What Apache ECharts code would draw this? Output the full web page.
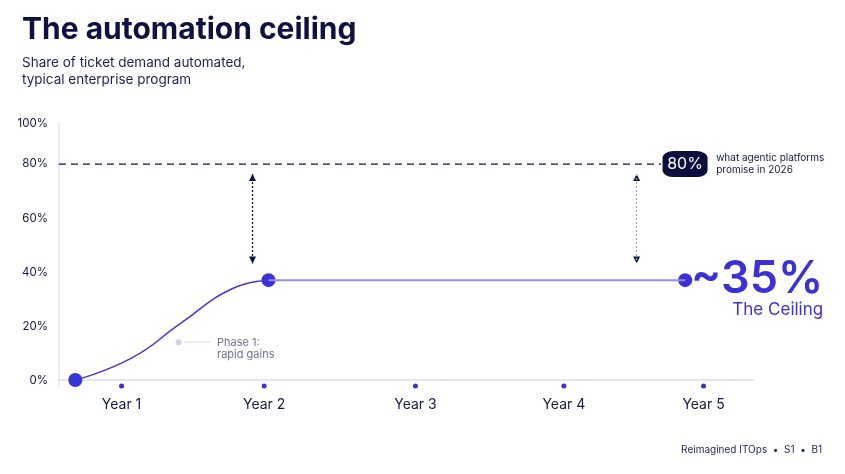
<!DOCTYPE html>
<html><head><meta charset="utf-8">
<script src="https://cdn.jsdelivr.net/npm/echarts@6/dist/echarts.min.js"></script>
<style>html,body{margin:0;padding:0;background:#fff}#c{width:845px;height:474px}</style>
</head><body><div id="c"></div>
<script>
// ---- data ----
const yearLabels = ['Year 1', 'Year 2', 'Year 3', 'Year 4', 'Year 5'];
const yearPos = [1, 1.98, 3.02, 4.04, 5];
const yTickValues = [0, 20, 40, 60, 80, 95];
const yTickLabels = ['0%', '20%', '40%', '60%', '80%', '100%'];
const curve = [[0.682, 0], [1.071, 8.2], [1.403, 20.9], [1.759, 33.8], [2.01, 37]];
const plateau = [[2.01, 37], [4.874, 37]];
const bigDots = [[0.682, 0], [2.01, 37], [4.874, 37]];
const promiseValue = 80;
const promiseLineX = [0.57, 4.709];
const promiseBadgeX = 4.873;
const promiseNoteX = 5.087;
const promiseBadge = '80%';
const promiseNote = 'what agentic platforms\npromise in 2026';
const ceilingLabel = '~35%';
const ceilingSub = 'The Ceiling';
const gapArrowX = [1.9, 4.54];
const gapArrowTop = 76.3;
const gapArrowBottom = 43.2;
const phasePoint = [1.392, 14];
const phaseLineX = [1.43, 1.61];
const phaseTextX = 1.656;
const phaseText = 'Phase 1:\nrapid gains';

const NAVY = '#0f1240';
const BLUE = '#3b31d8';
const FONT = 'Inter';

const chart = echarts.init(document.getElementById('c'), null, {renderer: 'canvas'});
chart.setOption({
  animation: false,
  backgroundColor: '#ffffff',
  textStyle: {fontFamily: FONT},
  grid: {left: 59, right: 92, top: 123, bottom: 88},
  xAxis: {
    type: 'value', min: 0.57, max: 5.34,
    axisLine: {show: true, lineStyle: {color: '#dcdcef', width: 1.5}},
    axisTick: {show: false}, axisLabel: {show: false}, splitLine: {show: false}
  },
  yAxis: {
    type: 'value', min: -2.2, max: 95.2,
    axisLine: {show: true, lineStyle: {color: '#e4e4f2', width: 1.5}},
    axisTick: {show: false}, axisLabel: {show: false}, splitLine: {show: false}
  },
  graphic: [
    {type: 'text', left: 22, top: 15, style: {text: 'The automation ceiling', font: '700 30px Inter', fill: NAVY}},
    {type: 'text', left: 22, top: 55, style: {text: 'Share of ticket demand automated,\ntypical enterprise program', font: '400 13.5px Inter', fill: '#1d2150', lineHeight: 16.5}},
    {type: 'text', right: 23, top: 445, style: {text: 'Reimagined ITOps  \u2022  S1  \u2022  B1', font: '400 10px Inter', fill: '#1d2150'}}
  ],
  series: [
    // 80% promise dashed line
    {type: 'line', silent: true, clip: false, symbol: 'none',
     data: promiseLineX.map(x => [x, promiseValue]),
     lineStyle: {color: NAVY, width: 1.3, type: [7, 5]}},
    // gap arrows (dotted shafts)
    {type: 'line', silent: true, data: [],
     markLine: {silent: true, symbol: 'none', label: {show: false},
       data: [
         [{coord: [gapArrowX[0], gapArrowTop], lineStyle: {color: NAVY, width: 1.3, type: [2, 2]}}, {coord: [gapArrowX[0], gapArrowBottom]}],
         [{coord: [gapArrowX[1], gapArrowTop], lineStyle: {color: '#a9abbf', width: 1.2, type: [2, 2]}}, {coord: [gapArrowX[1], gapArrowBottom]}]
       ]}},
    // arrow heads
    {type: 'scatter', silent: true, clip: false, symbol: 'triangle', symbolSize: [7, 7],
     itemStyle: {color: NAVY, opacity: 1},
     data: gapArrowX.map(x => ({value: [x, gapArrowTop], symbolOffset: [0, 3.5]}))
       .concat(gapArrowX.map(x => ({value: [x, gapArrowBottom], symbolRotate: 180, symbolOffset: [0, -3.5]})))},
    // curve
    {type: 'line', silent: true, smooth: 0.5, symbol: 'none', data: curve,
     lineStyle: {color: '#4037d8', width: 1.5}},
    // plateau
    {type: 'line', silent: true, symbol: 'none', data: plateau,
     lineStyle: {color: '#958de9', width: 2}},
    // big dots
    {type: 'scatter', silent: true, clip: false, symbolSize: 14, data: bigDots,
     itemStyle: {color: BLUE, opacity: 1}},
    // phase annotation
    {type: 'line', silent: true, symbol: 'none', data: phaseLineX.map(x => [x, phasePoint[1]]),
     lineStyle: {color: '#d6d8e8', width: 1}},
    {type: 'scatter', silent: true, symbolSize: 6, data: [phasePoint],
     itemStyle: {color: '#cfd2e4', opacity: 1}},
    {type: 'scatter', silent: true, symbolSize: 0, data: [[phaseTextX, phasePoint[1]]],
     itemStyle: {opacity: 1},
     label: {show: true, position: [0, -6], align: 'left', verticalAlign: 'top',
       formatter: phaseText, fontSize: 11, lineHeight: 12, color: '#6f738f', fontFamily: FONT}},
    // year ticks + labels
    {type: 'scatter', silent: true, clip: false, symbolSize: 5,
     data: yearPos.map((x, i) => ({value: [x, -2.2], name: yearLabels[i]})),
     itemStyle: {color: BLUE, opacity: 1},
     label: {show: true, position: 'bottom', distance: 9, formatter: p => p.name,
       fontSize: 14, color: '#151940', fontFamily: FONT}},
    // y tick labels
    {type: 'scatter', silent: true, clip: false, symbolSize: 0,
     itemStyle: {opacity: 1},
     data: yTickValues.map((v, i) => ({value: [0.57, v], name: yTickLabels[i]})),
     label: {show: true, position: 'left', distance: 11, formatter: p => p.name,
       fontSize: 11.5, color: '#151940', fontFamily: FONT}},
    // promise badge
    {type: 'scatter', silent: true, clip: false, symbol: 'roundRect', symbolSize: [45, 26],
     data: [[promiseBadgeX, promiseValue]], itemStyle: {color: '#0b0f3e', opacity: 1},
     label: {show: true, position: 'inside', formatter: promiseBadge, fontSize: 16, color: '#ffffff', fontFamily: FONT}},
    {type: 'scatter', silent: true, clip: false, symbolSize: 0,
     itemStyle: {opacity: 1},
     data: [[promiseNoteX, promiseValue]],
     label: {show: true, position: 'right', distance: 0, formatter: promiseNote,
       fontSize: 10, lineHeight: 12.5, color: '#151940', fontFamily: FONT}},
    // ceiling labels
    {type: 'scatter', silent: true, clip: false, symbolSize: 0,
     itemStyle: {opacity: 1},
     data: [plateau[1]],
     label: {show: true, position: [138, -1], align: 'right', verticalAlign: 'middle',
       formatter: ceilingLabel, fontSize: 45, fontWeight: 600, color: BLUE, fontFamily: FONT}},
    {type: 'scatter', silent: true, clip: false, symbolSize: 0,
     itemStyle: {opacity: 1},
     data: [plateau[1]],
     label: {show: true, position: [138, 30], align: 'right', verticalAlign: 'middle',
       formatter: ceilingSub, fontSize: 17, color: BLUE, fontFamily: FONT}}
  ]
});
</script></body></html>
